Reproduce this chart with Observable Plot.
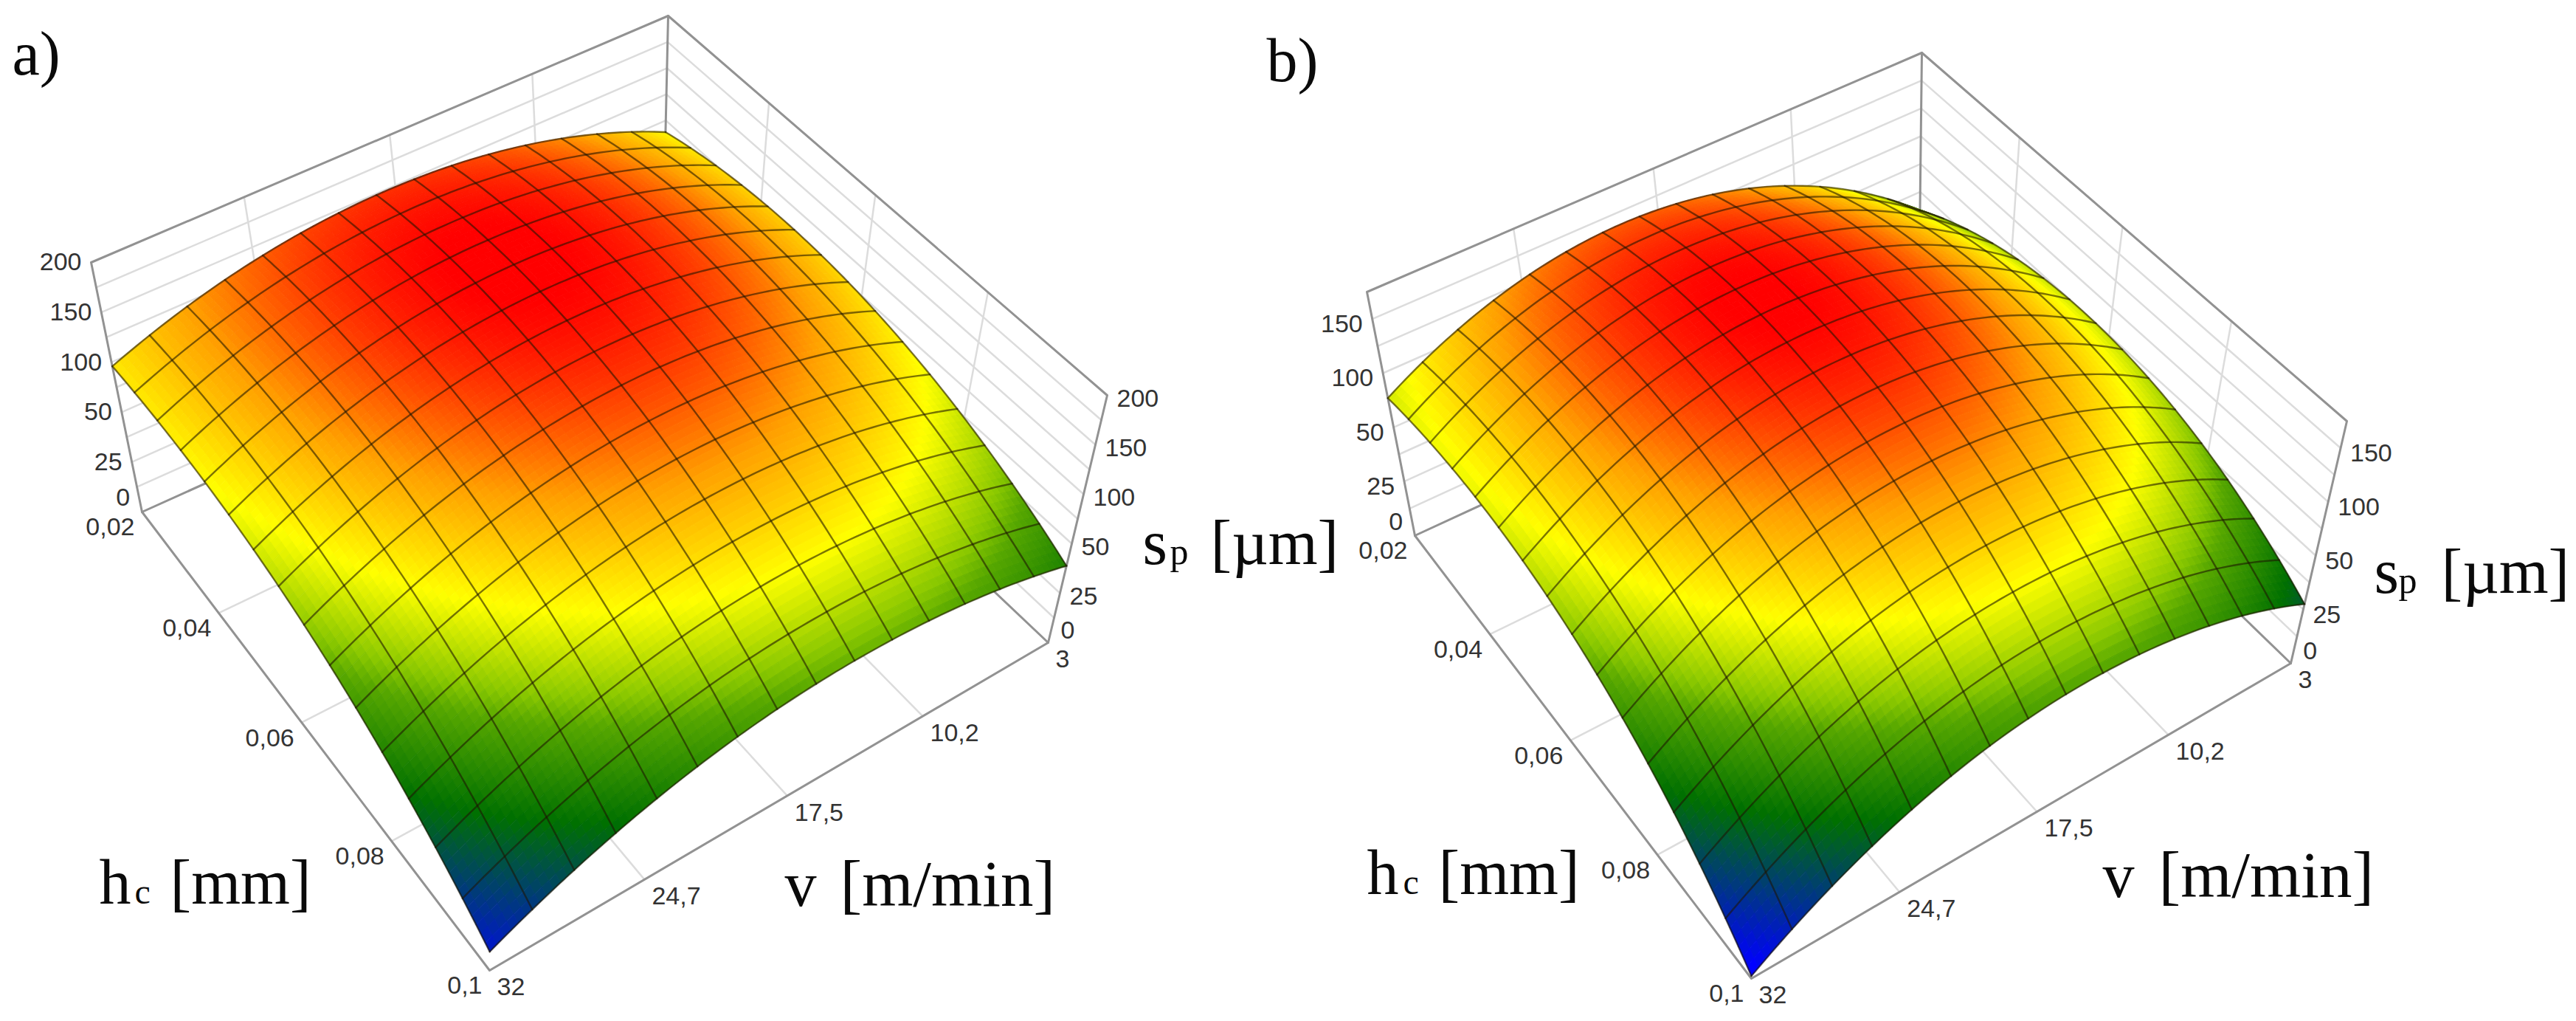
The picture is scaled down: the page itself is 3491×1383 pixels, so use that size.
<!DOCTYPE html>
<html>
<head>
<meta charset="utf-8">
<script src="https://cdn.jsdelivr.net/npm/d3@7"></script>
<script src="https://cdn.jsdelivr.net/npm/@observablehq/plot@0.6"></script>
<style>
html,body{margin:0;padding:0;background:#fff;overflow:hidden}
svg{display:block;max-width:none}
</style>
</head>
<body>
<div id="chart"></div>
<script>
// ---- data ----
const hcTicks = [0.02, 0.04, 0.06, 0.08, 0.1];
const vTicks = [3, 10.2, 17.5, 24.7, 32];
const spTicksA = [0, 25, 50, 100, 150, 200];
const spTicksB = [0, 25, 50, 100, 150];
const hcSamples = [0.02, 0.036, 0.052, 0.068, 0.084, 0.1];
const vSamples = [3, 8.8, 14.6, 20.4, 26.2, 32];
// sp [µm] at (hc row, v column)
const spA = [
  [88.8, 126.2, 145.7, 147.1, 130.6, 96.0],
  [102.9, 141.3, 159.4, 157.3, 134.9, 92.3],
  [103.9, 141.0, 157.0, 151.7, 125.3, 77.6],
  [91.6, 125.4, 138.4, 130.4, 101.6, 51.9],
  [66.2, 94.6, 103.6, 93.4, 64.0, 32.6],
  [38.8, 49.2, 52.7, 45.4, 31.2, 8.8]
];
const spB = [
  [41.7, 94.6, 129.5, 138.2, 120.7, 77.0],
  [63.0, 121.1, 152.4, 156.5, 133.6, 83.8],
  [74.9, 128.7, 155.7, 155.7, 128.5, 74.6],
  [69.3, 117.3, 139.5, 135.6, 105.6, 49.8],
  [48.0, 87.1, 103.8, 96.6, 64.9, 29.5],
  [27.5, 43.8, 49.3, 44.1, 28.0, 1.1]
];
const colorStops = [3, 33, 60, 88, 122, 160];
const colorRange = ["#0000ff", "#007000", "#8ac800", "#ffff00", "#ffa000", "#ff0000"];

// ---- layout ----
const W = 3491, H = 1383, MESH = 15, SUB = 6;
const panels = [
  {
    name: "a", values: spA, ticks: spTicksA,
    axisValues: [0, 25, 50, 100, 150, 200], axisPos: [0, .2, .4, .6, .8, 1], gridCount: 10, labelDyL: 0, labelDyR: 5,
    floor: [[897, 375], [1420, 870], [663, 1314], [192, 693]],
    top: [[905, 21], [1500, 535], [666, 954], [123, 355]]
  },
  {
    name: "b", values: spB, ticks: spTicksB,
    axisValues: [0, 25, 50, 100, 150, 175], axisPos: [0, 2 / 9, 4 / 9, 6 / 9, 8 / 9, 1], gridCount: 9, labelDyL: 7, labelDyR: 7,
    floor: [[2600, 410], [3104, 898], [2373, 1325], [1917, 725]],
    top: [[2604, 71], [3180, 570], [2376, 973], [1852, 395]]
  }
];
const annotations = [
  {t: "a)", x: 16, y: 100, s: 84}, {t: "b)", x: 1716, y: 109, s: 84},
  {t: "h", x: 134, y: 1223, s: 86}, {t: "c", x: 182, y: 1223, s: 48}, {t: "[mm]", x: 230, y: 1223, s: 86},
  {t: "v", x: 1063, y: 1226, s: 86}, {t: "[m/min]", x: 1138, y: 1226, s: 89},
  {t: "s", x: 1548, y: 763, s: 86}, {t: "p", x: 1585, y: 763, s: 50}, {t: "[µm]", x: 1640, y: 763, s: 86},
  {t: "h", x: 1852, y: 1210, s: 86}, {t: "c", x: 1901, y: 1210, s: 48}, {t: "[mm]", x: 1949, y: 1210, s: 86},
  {t: "v", x: 2849, y: 1214, s: 86}, {t: "[m/min]", x: 2925, y: 1214, s: 89},
  {t: "s", x: 3217, y: 802, s: 86}, {t: "p", x: 3250, y: 802, s: 50}, {t: "[µm]", x: 3308, y: 802, s: 86}
];

// ---- projection of the (u, w, height) box to the page ----
function homography(q) {
  const [[x0, y0], [x1, y1], [x2, y2], [x3, y3]] = q;
  const sx = x0 - x1 + x2 - x3, sy = y0 - y1 + y2 - y3;
  const dx1 = x1 - x2, dx2 = x3 - x2, dy1 = y1 - y2, dy2 = y3 - y2;
  const den = dx1 * dy2 - dx2 * dy1;
  const g = (sx * dy2 - dx2 * sy) / den, h = (dx1 * sy - sx * dy1) / den;
  const a = x1 - x0 + g * x1, b = x3 - x0 + h * x3, d = y1 - y0 + g * y1, e = y3 - y0 + h * y3;
  return (u, w) => {
    const k = g * u + h * w + 1;
    return [(a * u + b * w + x0) / k, (d * u + e * w + y0) / k];
  };
}
function catmull(p, t) {
  const n = p.length, s = t * (n - 1), k = Math.min(Math.floor(s), n - 2), r = s - k;
  const a = k > 0 ? p[k - 1] : 3 * p[0] - 3 * p[1] + p[2];
  const d = k + 2 < n ? p[k + 2] : 3 * p[n - 1] - 3 * p[n - 2] + p[n - 3];
  const b = p[k], c = p[k + 1];
  return 0.5 * (2 * b + (c - a) * r + (2 * a - 5 * b + 4 * c - d) * r * r + (3 * b - a - 3 * c + d) * r * r * r);
}
const uOf = hc => (hc - hcTicks[0]) / (hcTicks[hcTicks.length - 1] - hcTicks[0]);
const wOf = v => (v - vTicks[0]) / (vTicks[vTicks.length - 1] - vTicks[0]);
const comma = v => String(v).replace(".", ",");

const cells = [], mesh = [], dark = [], light = [], tickLabels = {hc: [], v: [], spL: [], spR: []};
let lineId = 0;

for (const P of panels) {
  const fl = homography(P.floor), tp = homography(P.top);
  const pos = (u, w, f) => {
    const a = fl(u, w), b = tp(u, w);
    return [a[0] + (b[0] - a[0]) * f, a[1] + (b[1] - a[1]) * f];
  };
  const toF = d3.scaleLinear(P.axisValues, P.axisPos);
  const rows = P.values.map(r => r.map(v => toF(v)));
  const surfF = (u, w) => catmull(rows.map(r => catmull(r, w)), u);

  const seg = (target, pts) => {
    const id = lineId++;
    for (const p of pts) {
      const [x, y] = pos(...p);
      target.push({x, y, id});
    }
  };

  // walls, floor and box
  for (let i = 1; i < P.gridCount; i++) {
    const f = i / P.gridCount;
    seg(light, [[0, 1, f], [0, 0, f], [1, 0, f]]);
  }
  for (const hc of hcTicks.slice(1, -1)) {
    const u = uOf(hc);
    seg(light, [[u, 0, 0], [u, 0, 1]]);
    seg(light, [[u, 1, 0], [u, 0, 0]]);
  }
  for (const v of vTicks.slice(1, -1)) {
    const w = wOf(v);
    seg(light, [[0, w, 0], [0, w, 1]]);
    seg(light, [[1, w, 0], [0, w, 0]]);
  }
  seg(dark, [[0, 1, 0], [0, 1, 1], [0, 0, 1], [1, 0, 1], [1, 0, 0]]);
  seg(dark, [[0, 0, 0], [0, 0, 1]]);
  seg(dark, [[0, 0, 0], [0, 1, 0], [1, 1, 0], [1, 0, 0], [0, 0, 0]]);

  // surface: painted from the far corner to the near one
  const n = MESH * SUB;
  const F = d3.range(n + 1).map(i => d3.range(n + 1).map(j => surfF(i / n, j / n)));
  const Q = d3.range(n + 1).map(i => d3.range(n + 1).map(j => pos(i / n, j / n, F[i][j])));
  for (let i = 0; i < n; i++) {
    for (let j = 0; j < n; j++) {
      const id = lineId++;
      const c = toF.invert((F[i][j] + F[i + 1][j] + F[i][j + 1] + F[i + 1][j + 1]) / 4);
      for (const [a, b] of [[i, j], [i + 1, j], [i + 1, j + 1], [i, j + 1]]) {
        cells.push({x: Q[a][b][0], y: Q[a][b][1], id, c});
      }
    }
  }
  for (let m = 0; m <= MESH; m++) {
    let id = lineId++;
    for (let t = 0; t <= n; t++) mesh.push({x: Q[m * SUB][t][0], y: Q[m * SUB][t][1], id});
    id = lineId++;
    for (let t = 0; t <= n; t++) mesh.push({x: Q[t][m * SUB][0], y: Q[t][m * SUB][1], id});
  }

  // tick labels
  for (const hc of hcTicks) {
    const [x, y] = pos(uOf(hc), 1, 0);
    tickLabels.hc.push({x, y, t: comma(hc)});
  }
  for (const v of vTicks) {
    const [x, y] = pos(1, wOf(v), 0);
    tickLabels.v.push({x, y, t: comma(v)});
  }
  for (const s of P.ticks) {
    const f = s === 0 ? 0.05 : toF(s);
    const [xl, yl] = pos(0, 1, f);
    tickLabels.spL.push({x: xl, y: yl + (s === 0 ? -2 : P.labelDyL), t: String(s)});
    const [xr, yr] = pos(1, 0, f);
    tickLabels.spR.push({x: xr, y: yr + (s === 0 ? 0 : P.labelDyR), t: String(s)});
  }
}

const tickStyle = {x: "x", y: "y", text: "t", fontFamily: "Liberation Sans", fontSize: 34, fill: "#333"};

const chart = Plot.plot({
  width: W, height: H, margin: 0,
  style: {background: "#fff"},
  x: {domain: [0, W], range: [0, W], axis: null},
  y: {domain: [0, H], range: [0, H], axis: null},
  color: {type: "linear", domain: colorStops, range: colorRange, clamp: true},
  marks: [
    Plot.line(light, {x: "x", y: "y", z: "id", stroke: "#dcdcdc", strokeWidth: 2.5}),
    Plot.line(dark, {x: "x", y: "y", z: "id", stroke: "#929292", strokeWidth: 3}),
    Plot.line(cells, {x: "x", y: "y", z: "id", fill: "c", stroke: "c", strokeWidth: 1, curve: "linear-closed"}),
    Plot.line(mesh, {x: "x", y: "y", z: "id", stroke: "#1e1400", strokeOpacity: 0.58, strokeWidth: 2.4}),
    Plot.text(tickLabels.hc, {...tickStyle, textAnchor: "end", dx: -10, dy: 21}),
    Plot.text(tickLabels.v, {...tickStyle, textAnchor: "start", dx: 10, dy: 23}),
    Plot.text(tickLabels.spL, {...tickStyle, textAnchor: "end", dx: -13}),
    Plot.text(tickLabels.spR, {...tickStyle, textAnchor: "start", dx: 13}),
    Plot.text(annotations, {x: "x", y: "y", text: "t", fontSize: "s", textAnchor: "start", lineAnchor: "bottom",
      fontFamily: "Liberation Serif", fill: "#0a0a0a"})
  ]
});
document.getElementById("chart").append(chart);
</script>
</body>
</html>
